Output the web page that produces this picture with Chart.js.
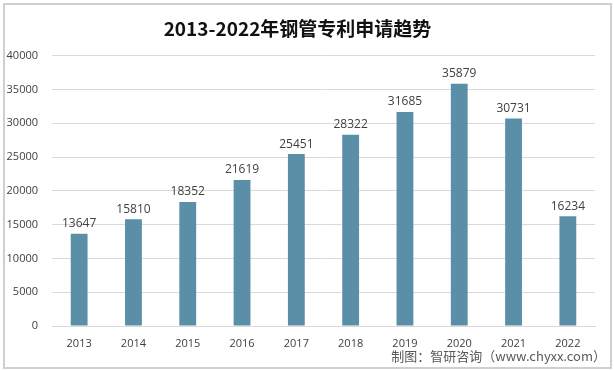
<!DOCTYPE html>
<html>
<head>
<meta charset="utf-8">
<script src="https://cdn.jsdelivr.net/npm/chart.js@4"></script>
<style>
	body { margin: 0; background: #fff; }
	#wrap { position: relative; width: 614px; height: 371px; }
	#frame { position: absolute; left: 3px; top: 3px; width: 605px; height: 362px; border: 2px solid #cfcfcf; pointer-events: none; }
	#source { position: absolute; right: 8px; top: 346px; font: 13px "Noto Sans CJK SC", sans-serif; color: #595959; }
</style>
</head>
<body>
<div id="wrap">
	<canvas id="chart" width="614" height="371"></canvas>
	<div id="frame"></div>
	<div id="source">制图：智研咨询（www.chyxx.com）</div>
</div>
<script>
const years = ['2013', '2014', '2015', '2016', '2017', '2018', '2019', '2020', '2021', '2022'];
const applications = [13647, 15810, 18352, 21619, 25451, 28322, 31685, 35879, 30731, 16234];
const yTicks = [0, 5000, 10000, 15000, 20000, 25000, 30000, 35000, 40000];

const titleFont = '"Noto Sans CJK SC", "Open Sans", sans-serif';
const numFont = '"Open Sans", "Noto Sans", sans-serif';

// draws the value above each bar
const valueLabels = {
	id: 'valueLabels',
	afterDatasetsDraw(chart) {
		const ctx = chart.ctx;
		const meta = chart.getDatasetMeta(0);
		ctx.save();
		ctx.font = '12px ' + numFont;
		ctx.fillStyle = '#404040';
		ctx.textAlign = 'center';
		ctx.textBaseline = 'bottom';
		meta.data.forEach((bar, i) => {
			ctx.fillText(applications[i], bar.x, bar.y - 4);
		});
		ctx.restore();
	}
};

new Chart(document.getElementById('chart'), {
	type: 'bar',
	data: {
		labels: years,
		datasets: [{
			data: applications,
			backgroundColor: '#5b8fa8',
			borderWidth: 0,
			categoryPercentage: 1,
			barPercentage: 0.31
		}]
	},
	options: {
		responsive: false,
		animation: false,
		layout: { padding: { top: 0, right: 19, bottom: 0, left: 0 } },
		plugins: {
			legend: { display: false },
			tooltip: { enabled: false },
			title: {
				display: true,
				text: '2013-2022年钢管专利申请趋势',
				color: '#111',
				font: { family: titleFont, size: 19, weight: 'bold' },
				padding: { top: 17, bottom: 16 }
			}
		},
		scales: {
			x: {
				grid: { display: false },
				border: { color: '#d9d9d9' },
				ticks: { color: '#404040', font: { family: numFont, size: 11 }, padding: 3 },
				afterFit: (scale) => { scale.height = 45; }
			},
			y: {
				min: 0,
				max: 40000,
				afterBuildTicks: (scale) => { scale.ticks = yTicks.map((v) => ({ value: v })); },
				grid: { color: '#d9d9d9', drawTicks: false },
				border: { display: false },
				ticks: {
					color: '#404040',
					font: { family: numFont, size: 11 },
					padding: 14,
					callback: (v) => String(v)
				},
				afterFit: (scale) => { scale.width = 52; }
			}
		}
	},
	plugins: [valueLabels]
});
</script>
</body>
</html>
